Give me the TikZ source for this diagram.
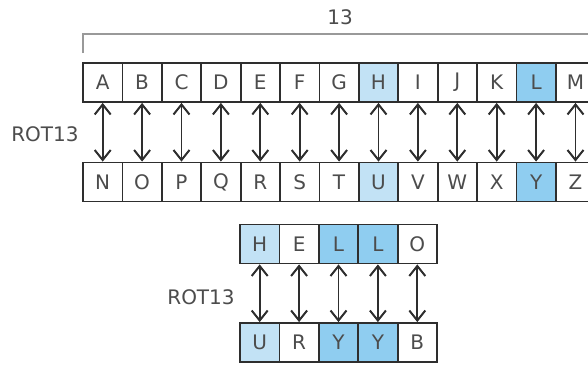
\documentclass[tikz,border=0pt]{standalone}
\usepackage{fontspec}
\setmainfont{DejaVu Sans}
\usetikzlibrary{arrows.meta}
\definecolor{ink}{HTML}{2E2E2E}
\definecolor{txt}{HTML}{4C4C4C}
\definecolor{paleblue}{HTML}{C2E2F5}
\definecolor{midblue}{HTML}{8FCDF0}
\tikzset{
  cell/.style={draw=ink, line width=1.8pt, minimum width=39.4pt, minimum height=39pt,
    inner sep=0pt, text=txt, font=\fontsize{20}{20}\selectfont, anchor=center},
  pale/.style={fill=paleblue},
  deep/.style={fill=midblue},
  barb/.tip={Straight Barb[length=10pt,width=16pt,line width=2pt]},
  swap/.style={draw=ink, line width=1.8pt, {barb}-{barb}},
  lbl/.style={text=txt, font=\fontsize{20}{20}\selectfont, inner sep=0pt},
  brace/.style={draw=gray!80, line width=1.2pt}
}
\begin{document}
\begin{tikzpicture}[x=1pt,y=-1pt]
\useasboundingbox (0,0) rectangle (588,364);
\clip (0,0) rectangle (588,364);

% alphabet, first half and second half
\foreach \u/\l/\s [count=\i] in {A/N/,B/O/,C/P/,D/Q/,E/R/,F/S/,G/T/,H/U/pale,I/V/,J/W/,K/X/,L/Y/deep,M/Z/} {
  \pgfmathsetmacro{\cx}{83+19.7+39.4*(\i-1)}
  \node[cell,\s] (t\i) at (\cx,82.5) {\u};
  \node[cell,\s] (b\i) at (\cx,182) {\l};
  \draw[swap] (t\i.south) -- (b\i.north);
}

% span marker over the thirteen letters
\coordinate (brL) at (83,53);
\coordinate (brC) at (83,34);
\coordinate (brR) at (600,34);
\draw[brace] (brL) -- (brC) -- (brR);
\node[lbl] (n13) at (340,17) {13};
\node[lbl] (rot1) at (45,134) {ROT13};

% example word
\foreach \u/\l/\s [count=\i] in {H/U/pale,E/R/,L/Y/deep,L/Y/deep,O/B/} {
  \pgfmathsetmacro{\cx}{240+19.7+39.4*(\i-1)}
  \node[cell,\s] (h\i) at (\cx,244) {\u};
  \node[cell,\s] (r\i) at (\cx,342.5) {\l};
  \draw[swap] (h\i.south) -- (r\i.north);
}
\node[lbl] (rot2) at (201,297) {ROT13};
\end{tikzpicture}
\end{document}
